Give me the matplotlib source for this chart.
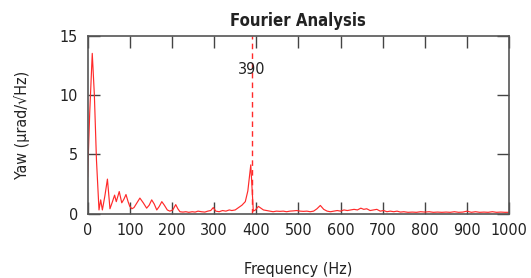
import numpy as np
import matplotlib
matplotlib.use('Agg')
import matplotlib.pyplot as plt

plt.rcParams['font.family'] = ['DejaVu Sans']
plt.rcParams['font.stretch'] = 'condensed'

# spectrum
freq = [0, 5, 11, 16, 21, 27, 31, 35, 41, 47, 53, 58, 64, 68, 75, 81, 86, 91, 96, 100,
        105, 110, 117, 124, 132, 140, 146, 152, 158, 164, 170, 176, 182, 189, 195, 202,
        209, 214, 219, 226, 233, 240, 248, 255, 262, 270, 278, 285, 292, 298, 304, 312,
        320, 328, 336, 342, 350, 358, 366, 374, 380, 387, 393, 398, 405, 411, 417, 425,
        433, 440, 448, 456, 464, 472, 480, 488, 496, 504, 512, 520, 528, 536, 544, 552,
        560, 568, 576, 584, 592, 600, 608, 616, 624, 632, 640, 648, 655, 662, 670, 678,
        686, 694, 702, 710, 718, 726, 734, 742, 750, 760, 770, 780, 790, 800, 810, 820,
        830, 840, 850, 860, 870, 880, 890, 900, 910, 920, 930, 940, 950, 960, 970, 980,
        990, 1000]
yaw = [3.1, 8.5, 13.5, 10.0, 4.5, 0.3, 1.15, 0.3, 1.5, 2.9, 0.4, 0.9, 1.55, 1.0, 1.85, 0.9, 1.2, 1.6, 1.0, 0.6,
       0.4, 0.5, 0.9, 1.3, 0.9, 0.45, 0.7, 1.15, 0.8, 0.3, 0.6, 1.0, 0.7, 0.3, 0.2, 0.3,
       0.75, 0.4, 0.15, 0.12, 0.15, 0.1, 0.15, 0.12, 0.2, 0.15, 0.12, 0.2, 0.25, 0.5, 0.2, 0.15,
       0.25, 0.2, 0.3, 0.25, 0.3, 0.5, 0.7, 1.0, 1.9, 4.1, 0.2, 0.3, 0.6, 0.45, 0.3, 0.25,
       0.2, 0.15, 0.2, 0.18, 0.2, 0.15, 0.2, 0.22, 0.25, 0.2, 0.18, 0.2, 0.15, 0.2, 0.4, 0.68,
       0.35, 0.2, 0.15, 0.2, 0.25, 0.2, 0.3, 0.25, 0.3, 0.35, 0.3, 0.45, 0.35, 0.4, 0.25, 0.3,
       0.35, 0.2, 0.25, 0.15, 0.2, 0.15, 0.2, 0.12, 0.15, 0.1, 0.12, 0.1, 0.15, 0.12, 0.15, 0.1,
       0.12, 0.1, 0.12, 0.1, 0.15, 0.1, 0.12, 0.2, 0.1, 0.15, 0.1, 0.12, 0.1, 0.15, 0.1, 0.12,
       0.1, 0.1]
peak_freq = 390
xticks = np.arange(0, 1001, 100)
yticks = [0, 5, 10, 15]

fig = plt.figure(figsize=(5.31, 2.78), dpi=100)
ax = fig.add_axes([0.165, 0.232, 0.794, 0.64])

ax.plot(freq, yaw, color='#ff2a2a', lw=0.85)
ax.axvline(peak_freq, color='#ff2a2a', lw=1.0, ls=(0, (4, 3)))
ax.text(peak_freq, 12.1, str(peak_freq), ha='center', va='center', fontsize=11.5, color='#222222')

ax.set_xlim(0, 1000)
ax.set_ylim(0, 15)
ax.set_xticks(xticks)
ax.set_yticks(yticks)
ax.tick_params(direction='in', top=True, right=True, length=8.5, width=1,
               colors='#444444', labelcolor='#222222', labelsize=11.5, pad=7)
for s in ax.spines.values():
    s.set_color('#555555')
    s.set_linewidth(1.2)

ax.set_title('Fourier Analysis', fontsize=12, fontweight='bold', color='#222222', pad=7)
ax.set_xlabel('Frequency (Hz)', fontsize=11.5, color='#222222', labelpad=17)
ax.set_ylabel('Yaw (µrad/√Hz)', fontsize=11.5, color='#222222', labelpad=21)

plt.savefig('out.png', dpi=100)
